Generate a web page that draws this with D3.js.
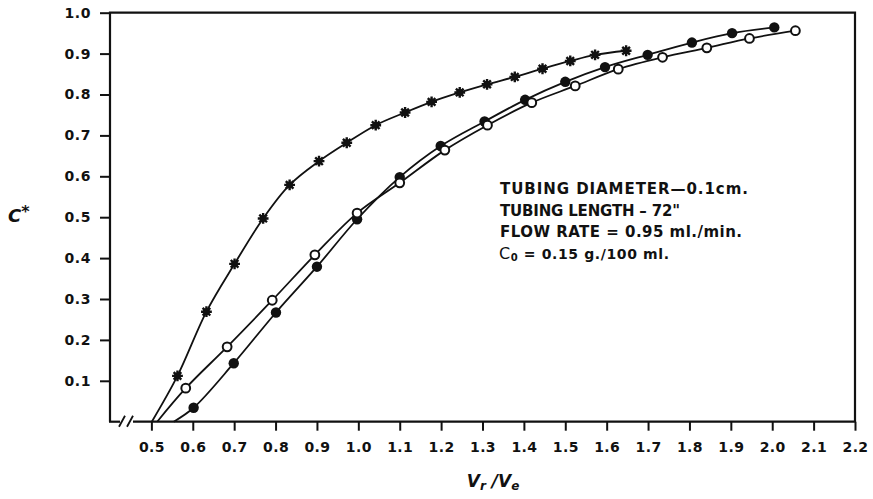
<!DOCTYPE html>
<html>
<head>
<meta charset="utf-8">
<script src="https://cdn.jsdelivr.net/npm/d3@7"></script>
<style>
  html, body { margin: 0; padding: 0; background: #fff; }
  svg { display: block; }
  text { fill: #111; }
</style>
</head>
<body>
<svg id="chart" width="873" height="499"></svg>
<script>
// Effluent concentration C* versus relative volume Vr/Ve, three runs
const starX   = [0.563, 0.633, 0.701, 0.770, 0.834, 0.905, 0.972, 1.042, 1.113, 1.177, 1.245, 1.311, 1.378, 1.445, 1.512, 1.572, 1.647];
const starY   = [0.112, 0.269, 0.386, 0.497, 0.579, 0.637, 0.682, 0.725, 0.756, 0.782, 0.805, 0.825, 0.843, 0.863, 0.882, 0.897, 0.907];

const openX   = [0.583, 0.683, 0.792, 0.895, 0.997, 1.100, 1.209, 1.312, 1.419, 1.524, 1.628, 1.735, 1.842, 1.945, 2.056];
const openY   = [0.082, 0.183, 0.297, 0.408, 0.510, 0.584, 0.664, 0.725, 0.780, 0.821, 0.862, 0.891, 0.914, 0.937, 0.956];

const filledX = [0.602, 0.699, 0.801, 0.900, 0.997, 1.100, 1.199, 1.305, 1.403, 1.500, 1.596, 1.699, 1.806, 1.903, 2.005];
const filledY = [0.034, 0.143, 0.267, 0.379, 0.495, 0.598, 0.674, 0.734, 0.787, 0.831, 0.867, 0.897, 0.927, 0.950, 0.964];

// where each fitted curve meets the C* = 0 axis
const starStart = 0.501, openStart = 0.514, filledStart = 0.554;

const xTicks = [0.5, 0.6, 0.7, 0.8, 0.9, 1.0, 1.1, 1.2, 1.3, 1.4, 1.5, 1.6, 1.7, 1.8, 1.9, 2.0, 2.1, 2.2];
const yTicks = [0.1, 0.2, 0.3, 0.4, 0.5, 0.6, 0.7, 0.8, 0.9, 1.0];

const noteLines = [
  "TUBING  DIAMETER\u20140.1cm.",
  "TUBING  LENGTH \u2013 72\"",
  "FLOW  RATE = 0.95 ml./min."
];

const svg = d3.select("#chart");
const FONT = "'DejaVu Sans', 'Liberation Sans', sans-serif";

const x = d3.scaleLinear().domain([0.4, 2.2]).range([110, 855]);
const y = d3.scaleLinear().domain([0, 1]).range([421.7, 12.7]);

// axes (domain lines replaced by the frame below)
const yAxis = d3.axisLeft(y).tickValues(yTicks).tickSize(10).tickPadding(9)
  .tickFormat(d3.format(".1f"));
const gy = svg.append("g").attr("transform", `translate(${x(0.4)},0)`).call(yAxis);
gy.select(".domain").remove();
gy.selectAll(".tick line").attr("stroke", "#111").attr("stroke-width", 2);
gy.selectAll(".tick text").attr("font-family", FONT).attr("font-size", 14)
  .attr("font-weight", "bold").attr("letter-spacing", 0.6).attr("fill", "#111");

const xAxis = d3.axisBottom(x).tickValues(xTicks).tickSize(9).tickPadding(11)
  .tickFormat(d3.format(".1f"));
const gx = svg.append("g").attr("transform", `translate(0,${y(0)})`).call(xAxis);
gx.select(".domain").remove();
gx.selectAll(".tick line").attr("stroke", "#111").attr("stroke-width", 2);
gx.selectAll(".tick text").attr("font-family", FONT).attr("font-size", 14)
  .attr("font-weight", "bold").attr("letter-spacing", 0.4).attr("fill", "#111");

// frame with a broken bottom axis near the origin
const x0 = x(0.4), x1 = x(2.2), yTop = y(1), yBot = y(0);
const frame = svg.append("g").attr("stroke", "#111").attr("stroke-width", 2.2).attr("fill", "none");
frame.append("path").attr("d", `M${x0},${yBot}V${yTop}H${x1}V${yBot}`);
frame.append("path").attr("d", `M${x0 - 1},${yBot}H${x0 + 10}`);
frame.append("path").attr("d", `M${x0 + 23},${yBot}H${x1 + 1}`);
frame.append("path").attr("stroke-width", 1.8)
  .attr("d", `M${x0 + 9},${yBot + 5}L${x0 + 15},${yBot - 6}M${x0 + 17},${yBot + 5}L${x0 + 23},${yBot - 6}`);

// curves
const line = d3.line().x(d => x(d[0])).y(d => y(d[1])).curve(d3.curveCatmullRom.alpha(0.5));
const series = [
  { xs: starX, ys: starY, start: starStart },
  { xs: openX, ys: openY, start: openStart },
  { xs: filledX, ys: filledY, start: filledStart }
];
series.forEach(s => {
  const pts = [[s.start, 0]].concat(s.xs.map((v, i) => [v, s.ys[i]]));
  svg.append("path").datum(pts).attr("d", line)
    .attr("fill", "none").attr("stroke", "#111").attr("stroke-width", 1.8);
});

// markers
const starPath = (() => {
  const r = 5.4;
  let p = "";
  [0, 45, 90, 135].forEach(a => {
    const t = a * Math.PI / 180, dx = r * Math.cos(t), dy = r * Math.sin(t);
    p += `M${-dx},${-dy}L${dx},${dy}`;
  });
  return p;
})();
const stars = svg.append("g");
starX.forEach((v, i) => {
  const g = stars.append("g").attr("transform", `translate(${x(v)},${y(starY[i])})`);
  g.append("circle").attr("r", 3.4).attr("fill", "#111");
  g.append("path").attr("d", starPath).attr("stroke", "#111").attr("stroke-width", 2.4);
});

svg.append("g").selectAll("circle").data(filledX).join("circle")
  .attr("cx", d => x(d)).attr("cy", (d, i) => y(filledY[i]))
  .attr("r", 5.2).attr("fill", "#111");

svg.append("g").selectAll("circle").data(openX).join("circle")
  .attr("cx", d => x(d)).attr("cy", (d, i) => y(openY[i]))
  .attr("r", 4.4).attr("fill", "#fff").attr("stroke", "#111").attr("stroke-width", 2);

// run conditions
const note = svg.append("g").attr("font-family", FONT).attr("font-size", 15)
  .attr("font-weight", "bold").attr("fill", "#111");
const noteWidths = [248, 180, 242];
noteLines.forEach((t, i) => {
  note.append("text").attr("x", 500).attr("y", 194 + i * 21.5).text(t)
    .attr("textLength", noteWidths[i]).attr("lengthAdjust", "spacing");
});
const c0 = note.append("text").attr("x", 499).attr("y", 258.5)
  .attr("textLength", 170).attr("lengthAdjust", "spacing");
c0.append("tspan").text("C").attr("font-size", 16).attr("font-weight", "normal");
c0.append("tspan").text("0").attr("font-size", 10).attr("dy", 2);
c0.append("tspan").text(" = 0.15 g./100 ml.").attr("dy", -2).attr("font-size", 14);

// axis titles
const yTitle = svg.append("text").attr("x", 8).attr("y", 222)
  .attr("font-family", FONT).attr("font-size", 18).attr("font-weight", "bold").attr("font-style", "italic");
yTitle.append("tspan").text("C");
yTitle.append("tspan").text("*").attr("dy", -5).attr("font-size", 16);

const xTitle = svg.append("text").attr("x", 493).attr("y", 487).attr("text-anchor", "middle")
  .attr("font-family", FONT).attr("font-size", 17).attr("font-weight", "bold").attr("font-style", "italic");
xTitle.append("tspan").text("V");
xTitle.append("tspan").text("r").attr("font-size", 12).attr("dy", 3);
xTitle.append("tspan").text(" /V").attr("dy", -3);
xTitle.append("tspan").text("e").attr("font-size", 12).attr("dy", 3);
</script>
</body>
</html>
